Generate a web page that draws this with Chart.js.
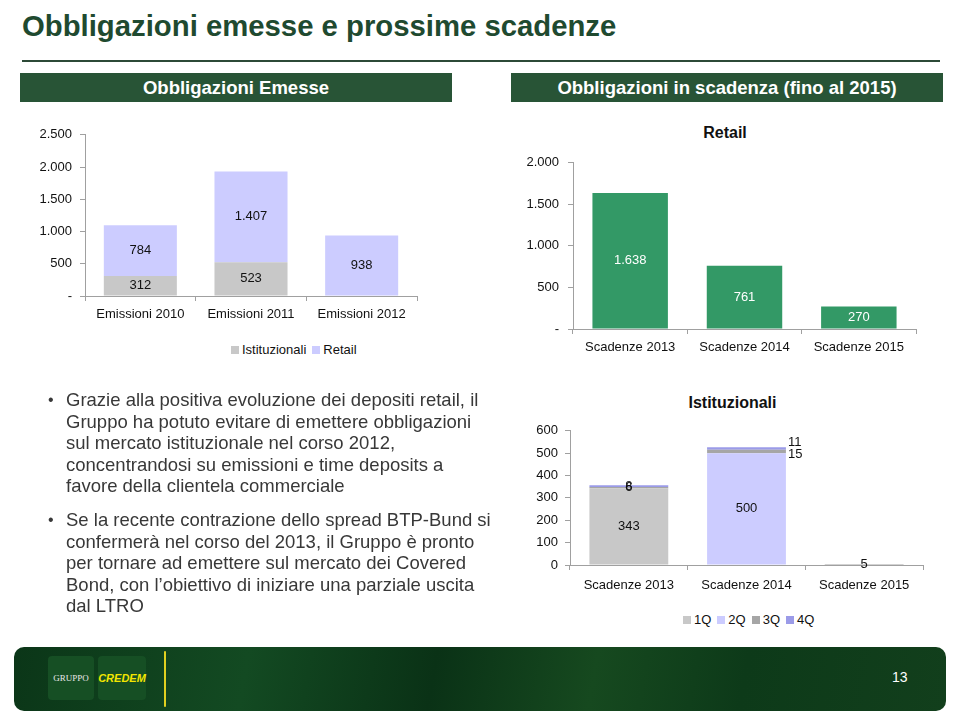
<!DOCTYPE html>
<html>
<head>
<meta charset="utf-8">
<script src="https://cdn.jsdelivr.net/npm/chart.js@4.4.0/dist/chart.umd.min.js"></script>
<style>
  body { margin:0; width:960px; height:720px; background:#fff; position:relative; overflow:hidden;
         font-family:"Liberation Sans", Arial, sans-serif; }
  .abs { position:absolute; }
  #title { left:22px; top:9px; font-size:29.3px; font-weight:bold; color:#1f4a30; white-space:nowrap; }
  #rule { left:22px; top:60px; width:918px; height:2px; background:#2c4a37; }
  .band { top:73px; height:29px; background:#285436; color:#fff; font-weight:bold; font-size:18.5px;
          line-height:29px; text-align:center; }
  .ctitle { font-weight:bold; font-size:16px; color:#111; text-align:center; }
  .legend { display:flex; align-items:center; font-size:13px; color:#111; white-space:nowrap; }
  .legend span.box { display:inline-block; width:8px; height:8px; margin-right:3px; }
  .legend span.item { margin-right:6px; display:flex; align-items:center; }
  #text { left:48px; top:389px; width:470px; font-size:18.5px; line-height:21.6px; color:#383838; }
  #text .b { position:relative; padding-left:18px; margin-bottom:12px; white-space:nowrap; }
  #text .b:before { content:"\2022"; position:absolute; left:0; top:0; font-size:16px; }
  #footer { left:14px; top:647px; width:932px; height:64px; border-radius:10px;
            background:linear-gradient(100deg,#0b3618 0%,#134a22 25%,#0a3216 45%,#16491f 62%,#0d3a19 78%,#123f1c 100%); }
  .logo { top:9px; height:44px; border-radius:4px; background:#164f24; font-size:9px; line-height:44px; text-align:center; }
</style>
</head>
<body>
<div id="title" class="abs">Obbligazioni emesse e prossime scadenze</div>
<div id="rule" class="abs"></div>
<div class="abs band" style="left:20px;width:432px;">Obbligazioni Emesse</div>
<div class="abs band" style="left:511px;width:432px;">Obbligazioni in scadenza (fino al 2015)</div>

<div class="abs" style="left:20px;top:119px;"><canvas id="c1" width="400" height="207"></canvas></div>
<div id="leg1" class="abs legend" style="left:231px;top:342px;"></div>

<div class="abs ctitle" style="left:675px;top:124px;width:100px;">Retail</div>
<div class="abs" style="left:490px;top:146px;"><canvas id="c2" width="430" height="213"></canvas></div>

<div class="abs ctitle" style="left:660px;top:394px;width:145px;">Istituzionali</div>
<div class="abs" style="left:510px;top:416px;"><canvas id="c3" width="417" height="179"></canvas></div>
<div id="leg3" class="abs legend" style="left:683px;top:612px;"></div>

<div id="text" class="abs">
  <div class="b">Grazie alla positiva evoluzione dei depositi retail, il<br>Gruppo ha potuto evitare di emettere obbligazioni<br>sul mercato istituzionale nel corso 2012,<br>concentrandosi su emissioni e time deposits a<br>favore della clientela commerciale</div>
  <div class="b">Se la recente contrazione dello spread BTP-Bund si<br>confermerà nel corso del 2013, il Gruppo è pronto<br>per tornare ad emettere sul mercato dei Covered<br>Bond, con l’obiettivo di iniziare una parziale uscita<br>dal LTRO</div>
</div>

<div id="footer" class="abs">
  <div class="abs logo" style="left:34px;width:46px;color:#e8e8e8;font-family:'Liberation Serif',serif;">GRUPPO</div>
  <div class="abs logo" style="left:84px;width:48px;color:#f2e600;font-weight:bold;font-style:italic;font-size:11px;">CREDEM</div>
  <div class="abs" style="left:150px;top:4px;width:2px;height:56px;background:#e0d020;border-radius:1px;"></div>
  <div class="abs" style="left:878px;top:22px;color:#fff;font-size:14px;">13</div>
</div>

<script>
// Obbligazioni emesse
const emissioniLabels = ['Emissioni 2010', 'Emissioni 2011', 'Emissioni 2012'];
const emessiIstituzionali = [312, 523, 0];
const emessiRetail = [784, 1407, 938];

// Scadenze retail
const scadenzeLabels = ['Scadenze 2013', 'Scadenze 2014', 'Scadenze 2015'];
const scadenzeRetail = [1638, 761, 270];

// Scadenze istituzionali per trimestre
const quarterNames = ['1Q', '2Q', '3Q', '4Q'];
const istit1Q = [343, 0, 0];
const istit2Q = [0, 500, 0];
const istit3Q = [6, 15, 5];
const istit4Q = [8, 11, 0];

const GREY = '#c8c8c8', LAVENDER = '#ccccff', DARKGREY = '#a6a6a6', PURPLE = '#9b9be8', GREEN = '#339966';
const FONT = '"Liberation Sans", Arial, sans-serif';

function fmt(v) {
  if (v === 0) return '-';
  return String(v).replace(/\B(?=(\d{3})+(?!\d))/g, '.');
}

const valueLabels = {
  id: 'valueLabels',
  afterDatasetsDraw(chart, args, opts) {
    const ctx = chart.ctx;
    ctx.save();
    ctx.font = '13px ' + FONT;
    ctx.fillStyle = opts.color || '#111';
    const sideCount = {};
    chart.data.datasets.forEach((ds, i) => {
      const meta = chart.getDatasetMeta(i);
      meta.data.forEach((bar, j) => {
        const v = ds.data[j];
        if (!v) return;
        const cy = (bar.y + bar.base) / 2;
        if (opts.side && opts.side.includes(j) && Math.abs(bar.base - bar.y) < 10) {
          // small slices: label on the right of the bar
          const k = sideCount[j] || 0;
          sideCount[j] = k + 1;
          ctx.textAlign = 'left';
          ctx.textBaseline = 'middle';
          ctx.fillText(fmt(v), bar.x + bar.width / 2 + 2, cy + 3 - k * 9);
        } else {
          ctx.textAlign = 'center';
          ctx.textBaseline = 'middle';
          ctx.fillText(fmt(v), bar.x, cy);
        }
      });
    });
    ctx.restore();
  }
};

function axes(max, step, yWidth, tickPad, xPad, zeroDash) {
  return {
    x: {
      stacked: true,
      grid: { drawOnChartArea: false, color: '#a0a0a0', tickLength: 5, offset: true },
      border: { color: '#a0a0a0' },
      ticks: { color: '#111', font: { family: FONT, size: 13 }, padding: xPad },
      afterFit: s => { s.height = 30; }
    },
    y: {
      stacked: true, min: 0, max: max,
      grid: { drawOnChartArea: false, color: '#a0a0a0', tickLength: 5 },
      border: { color: '#a0a0a0' },
      ticks: {
        stepSize: step, color: '#111', font: { family: FONT, size: 13 }, padding: tickPad,
        callback: v => zeroDash ? fmt(v) : String(v)
      },
      afterFit: s => { s.width = yWidth; }
    }
  };
}

const common = {
  responsive: false,
  animation: false,
  plugins: { legend: { display: false }, tooltip: { enabled: false } }
};

new Chart(document.getElementById('c1'), {
  type: 'bar',
  data: {
    labels: emissioniLabels,
    datasets: [
      { label: 'Istituzionali', data: emessiIstituzionali, backgroundColor: GREY, barPercentage: 0.66, categoryPercentage: 1 },
      { label: 'Retail', data: emessiRetail, backgroundColor: LAVENDER, barPercentage: 0.66, categoryPercentage: 1 }
    ]
  },
  options: Object.assign({}, common, {
    layout: { padding: { top: 9, right: 3 } },
    scales: axes(2500, 500, 65, 8, 6, true),
    plugins: Object.assign({}, common.plugins, { valueLabels: { color: '#111' } })
  }),
  plugins: [valueLabels]
});

new Chart(document.getElementById('c2'), {
  type: 'bar',
  data: {
    labels: scadenzeLabels,
    datasets: [
      { label: 'Retail', data: scadenzeRetail, backgroundColor: GREEN, barPercentage: 0.66, categoryPercentage: 1 }
    ]
  },
  options: Object.assign({}, common, {
    layout: { padding: { top: 10, right: 4 } },
    scales: axes(2000, 500, 83, 9, 6, true),
    plugins: Object.assign({}, common.plugins, { valueLabels: { color: '#ffffff' } })
  }),
  plugins: [valueLabels]
});

const qColors = [GREY, LAVENDER, DARKGREY, PURPLE];
const qData = [istit1Q, istit2Q, istit3Q, istit4Q];
new Chart(document.getElementById('c3'), {
  type: 'bar',
  data: {
    labels: scadenzeLabels,
    datasets: quarterNames.map((q, i) => ({
      label: q, data: qData[i], backgroundColor: qColors[i], barPercentage: 0.67, categoryPercentage: 1
    }))
  },
  options: Object.assign({}, common, {
    layout: { padding: { top: 10, right: 4 } },
    scales: axes(600, 100, 60, 7, 8, false),
    plugins: Object.assign({}, common.plugins, { valueLabels: { color: '#111', side: [1] } })
  }),
  plugins: [valueLabels]
});

function buildLegend(id, names, colors) {
  const el = document.getElementById(id);
  names.forEach((n, i) => {
    const item = document.createElement('span');
    item.className = 'item';
    item.innerHTML = '<span class="box" style="background:' + colors[i] + '"></span>' + n;
    el.appendChild(item);
  });
}
buildLegend('leg1', ['Istituzionali', 'Retail'], [GREY, LAVENDER]);
buildLegend('leg3', quarterNames, qColors);
</script>
</body>
</html>
